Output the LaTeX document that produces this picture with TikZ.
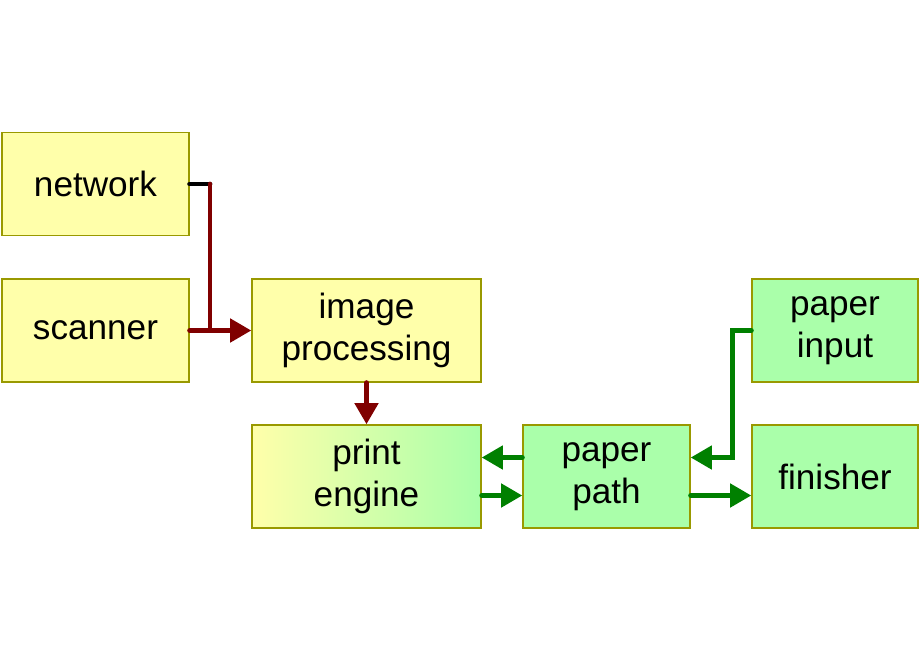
\documentclass[tikz,border=0pt]{standalone}
\usepackage{fontspec}
\setmainfont{Liberation Sans}
\usetikzlibrary{arrows.meta, positioning}
\definecolor{boxyellow}{HTML}{FFFFAA}
\definecolor{boxgreen}{HTML}{AAFFAA}
\definecolor{boxborder}{HTML}{999900}
\definecolor{linkred}{HTML}{800000}
\definecolor{linkgreen}{HTML}{008000}

\begin{document}
\begin{tikzpicture}[x=0.02cm, y=-0.02cm,
    block/.style={rectangle, draw=boxborder, line width=0.8pt, minimum height=2.06cm, align=center, font=\fontsize{20}{24}\selectfont, inner sep=0pt},
    yellowbox/.style={block, fill=boxyellow},
    greenbox/.style={block, fill=boxgreen},
    link/.style={line width=2.8pt, line cap=round},
    arrow/.style={link, -{Triangle[length=12pt, width=13pt]}}
]
    \useasboundingbox (0,0) rectangle (920,660);
    % Blocks
    \node[yellowbox, minimum width=3.74cm] (network) at (95.5,184) {network};
    \node[yellowbox, minimum width=3.74cm] (scanner) at (95.5,330.5) {scanner};
    \node[yellowbox, minimum width=4.58cm] (imgproc) at (366.5,330.5) {image\\processing};
    \node[block, minimum width=4.58cm, left color=boxyellow, right color=boxgreen] (engine) at (366.5,476.5) {print\\engine};
    \node[greenbox, minimum width=3.34cm] (path) at (606.5,476.5) {paper\\path};
    \node[greenbox, minimum width=3.32cm] (input) at (835,330.5) {paper\\input};
    \node[greenbox, minimum width=3.32cm] (finisher) at (835,476.5) {finisher};

    % Image connections
    \coordinate (join) at (210,184);
    \draw[link, black] (network.east) -- (join);
    \draw[link, linkred] (join) -- (210,330);
    \draw[arrow, linkred] (scanner.east) -- (imgproc.west);
    \draw[arrow, linkred] (imgproc.south) -- (engine.north);

    % Paper connections
    \draw[arrow, linkgreen] ([yshift=0.38cm]path.west) -- ([yshift=0.38cm]engine.east);
    \draw[arrow, linkgreen] ([yshift=-0.38cm]engine.east) -- ([yshift=-0.38cm]path.west);
    \draw[arrow, linkgreen] (input.west) -- ++(-19,0) |- ([yshift=0.38cm]path.east);
    \draw[arrow, linkgreen] ([yshift=-0.38cm]path.east) -- ([yshift=-0.38cm]finisher.west);
\end{tikzpicture}
\end{document}
